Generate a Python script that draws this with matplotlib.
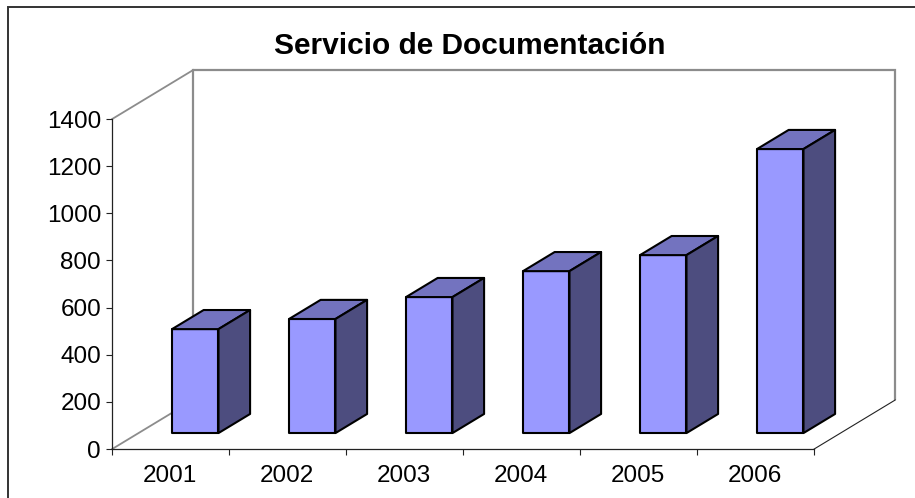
import matplotlib
matplotlib.use('Agg')
import matplotlib.pyplot as plt
from matplotlib.patches import Polygon, Rectangle

# data
years = ['2001', '2002', '2003', '2004', '2005', '2006']
values = [441, 484, 577, 687, 755, 1205]
yticks = [0, 200, 400, 600, 800, 1000, 1200, 1400]

plt.rcParams['font.family'] = ['Liberation Sans', 'DejaVu Sans']

W, H = 915, 498
fig = plt.figure(figsize=(W / 100, H / 100), dpi=100)

# outer frame, runs off the right and bottom of the picture
fig.add_artist(Rectangle((8 / W, -0.1), 1.1, 1.1 - 7.5 / H, transform=fig.transFigure,
                         fill=False, ec='#333333', lw=1.4))

# front plane of the chart
ax = fig.add_axes([112.2 / W, (H - 449) / H, 702 / W, 330 / H])
ax.set_xlim(0, 6)
ax.set_ylim(0, 1400)
ax.patch.set_visible(False)

# depth of the box, in data units
dx = 81 / (702 / 6)
dy = 49 / (330 / 1400)


def proj(x, y, d):
    return (x + dx * d, y + dy * d)


grey = '#8c8c8c'
wall = [proj(0, 0, 1), proj(0, 1400, 1), proj(6, 1400, 1), proj(6, 0, 1)]
ax.add_patch(Polygon(wall, closed=False, fill=False, ec=grey, lw=1.6, clip_on=False, zorder=1))
ax.plot(*zip(proj(0, 1400, 0), proj(0, 1400, 1)), color=grey, lw=1.3, clip_on=False, zorder=1)
ax.plot(*zip(proj(0, 0, 0), proj(0, 0, 1)), color=grey, lw=1.3, clip_on=False, zorder=1)
ax.plot(*zip(proj(6, 0, 0), proj(6, 0, 1)), color='#222222', lw=0.8, clip_on=False, zorder=1)

# bars
bw = 0.397
d0, d1 = 0.325, 0.715
shift = -0.015
for i, v in enumerate(values):
    x0 = i + 0.5 - bw / 2 + shift
    x1 = x0 + bw
    faces = [
        ([proj(x0, 0, d0), proj(x0, v, d0), proj(x1, v, d0), proj(x1, 0, d0)], '#9999ff'),
        ([proj(x0, v, d0), proj(x0, v, d1), proj(x1, v, d1), proj(x1, v, d0)], '#7373bf'),
        ([proj(x1, 0, d0), proj(x1, v, d0), proj(x1, v, d1), proj(x1, 0, d1)], '#4d4d7f'),
    ]
    for pts, c in faces:
        ax.add_patch(Polygon(pts, closed=True, fc=c, ec='black', lw=1.5, joinstyle='round',
                             clip_on=False, zorder=3))

# axes
for s in ['top', 'right']:
    ax.spines[s].set_visible(False)
for s in ['left', 'bottom']:
    ax.spines[s].set_linewidth(0.9)
    ax.spines[s].set_color('#222222')
    ax.spines[s].set_zorder(2)

ax.set_yticks(yticks)
ax.set_yticklabels([str(t) for t in yticks])
ax.set_xticks(range(7))
ax.set_xticklabels([])
ax.set_xticks([i + 0.49 for i in range(6)], labels=years, minor=True)
ax.tick_params(axis='x', which='minor', length=0, labelsize=17.5, pad=11.5)
ax.tick_params(axis='x', which='major', length=4.5, width=0.8, color='#222222')
ax.tick_params(axis='y', length=4.5, width=0.8, color='#222222', labelsize=17.5, pad=3.5)

fig.text(469.5 / W, (H - 46) / H, 'Servicio de Documentación', ha='center', va='center',
         fontsize=21.5, fontweight='bold')

fig.savefig('out.png', dpi=100)
